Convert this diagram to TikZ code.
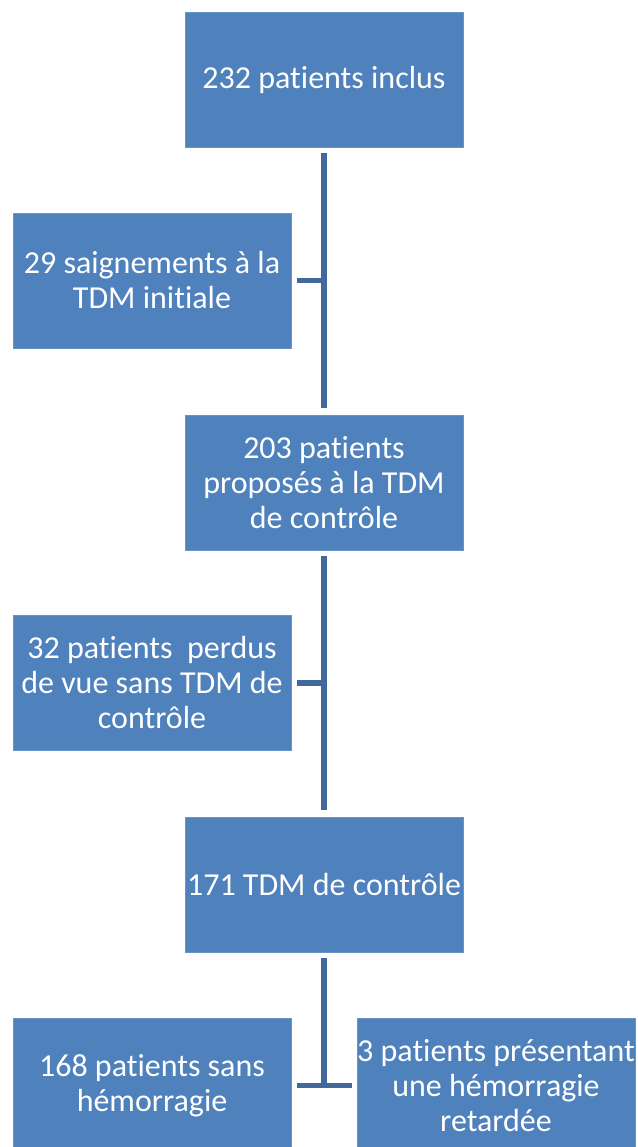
\documentclass[tikz,border=0pt]{standalone}
\usepackage{fontspec}
\setmainfont{Carlito}[Ligatures=NoCommon]
\usetikzlibrary{calc}
\definecolor{boxblue}{HTML}{4F81BD}
\definecolor{lineblue}{HTML}{41699C}
\tikzset{
  flowbox/.style={fill=boxblue, draw=boxblue!85!white, line width=0.6pt, minimum width=278pt, minimum height=135pt,
    inner sep=0pt, align=center, text=white, font=\fontsize{32}{35}\selectfont},
  conn/.style={draw=lineblue, line width=5.5pt}
}
\begin{document}
\begin{tikzpicture}[x=1pt,y=1pt]
\clip (0,0) rectangle (637,-1147);
\fill[white] (0,0) rectangle (637,-1147);
\node[flowbox] (a) at (324,-79.5) {232 patients inclus};
\node[flowbox] (b) at (152,-280.5) {29 saignements à la\\TDM initiale};
\node[flowbox] (c) at (324,-482.5) {203 patients\\proposés à la TDM\\de contrôle};
\node[flowbox] (d) at (152,-683) {32 patients\ \ perdus\\de vue sans TDM de\\contrôle};
\node[flowbox] (e) at (324,-884.5) {171 TDM de contrôle};
\node[flowbox] (f) at (152,-1085.5) {168 patients sans\\hémorragie};
\node[flowbox] (g) at (496,-1085.5) {3 patients présentant\\une hémorragie\\retardée};
% connectors
\draw[conn] ($(a.south)+(0,-6)$) -- ($(c.north)+(0,7)$);
\draw[conn] ($(b.east)+(6,0)$) -- (b.east -| a.south);
\draw[conn] ($(c.south)+(0,-6)$) -- ($(e.north)+(0,7)$);
\draw[conn] ($(d.east)+(6,0)$) -- (d.east -| c.south);
\draw[conn] ($(e.south)+(0,-6)$) -- (f.east -| e.south);
\draw[conn] ($(f.east)+(6,0)$) -- ($(g.west)+(-5,0)$);
\end{tikzpicture}
\end{document}
